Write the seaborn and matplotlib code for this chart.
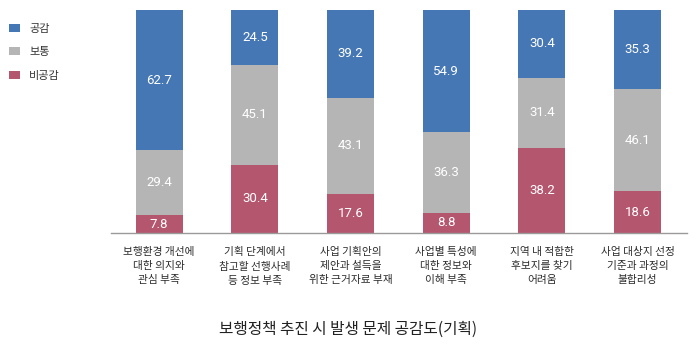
import matplotlib
matplotlib.use("Agg")
import matplotlib.pyplot as plt
import seaborn as sns
import pandas as pd
from matplotlib.patches import Patch

categories = ["보행환경 개선에\n대한 의지와\n관심 부족",
              "기획 단계에서\n참고할 선행사례\n등 정보 부족",
              "사업 기획안의\n제안과 설득을\n위한 근거자료 부재",
              "사업별 특성에\n대한 정보와\n이해 부족",
              "지역 내 적합한\n후보지를 찾기\n어려움",
              "사업 대상지 선정\n기준과 과정의\n불합리성"]
agree = [62.7, 24.5, 39.2, 54.9, 30.4, 35.3]
neutral = [29.4, 45.1, 43.1, 36.3, 31.4, 46.1]
disagree = [7.8, 30.4, 17.6, 8.8, 38.2, 18.6]
series_names = ["공감", "보통", "비공감"]
colors = {"공감": "#4677B5", "보통": "#B5B5B5", "비공감": "#B5566F"}
title = "보행정책 추진 시 발생 문제 공감도(기획)"

sns.set_theme(style="white")
plt.rcParams['font.family'] = ['Noto Sans CJK KR', 'DejaVu Sans']

df = pd.DataFrame({"cat": categories, "공감": agree, "보통": neutral, "비공감": disagree})

fig = plt.figure(figsize=(7.0, 3.49), dpi=100)
ax = fig.add_axes([0.159, 0.333, 0.823, 0.638])

bottoms = [0.0] * len(categories)
for name in ["비공감", "보통", "공감"]:
    vals = df[name].tolist()
    sns.barplot(data=df, x="cat", y=name, bottom=bottoms, color=colors[name],
                width=0.49, ax=ax, saturation=1, linewidth=0)
    for i, v in enumerate(vals):
        ax.text(i, bottoms[i] + v / 2, f"{v:.1f}", ha="center", va="center",
                color="white", fontsize=9.5, family=['Roboto', 'DejaVu Sans'])
    bottoms = [b + v for b, v in zip(bottoms, vals)]

ax.set_xlim(-0.5, 5.52)
ax.set_ylim(0, 100)
ax.set_xlabel("")
ax.set_ylabel("")
ax.set_yticks([])
for s in ["top", "right", "left"]:
    ax.spines[s].set_visible(False)
ax.spines["bottom"].set_color("#9a9a9a")
ax.spines["bottom"].set_linewidth(1.0)
ax.tick_params(axis="x", length=0, pad=10.5, labelsize=7.7, colors="#2b2b2b")
for lab in ax.get_xticklabels():
    lab.set_linespacing(1.5)

handles = [Patch(facecolor=colors[n], edgecolor="none", label=n) for n in series_names]
leg = fig.legend(handles=handles, loc="upper left", bbox_to_anchor=(0.006, 0.945),
                 frameon=False, fontsize=8, handlelength=1.0, handleheight=0.7,
                 handletextpad=0.85, labelspacing=1.22, borderaxespad=0)
for t in leg.get_texts():
    t.set_color("#333333")

fig.text(0.497, 0.057, title, ha="center", va="center", fontsize=11.3,
         color="#222222")

fig.savefig("out.png", dpi=100)
